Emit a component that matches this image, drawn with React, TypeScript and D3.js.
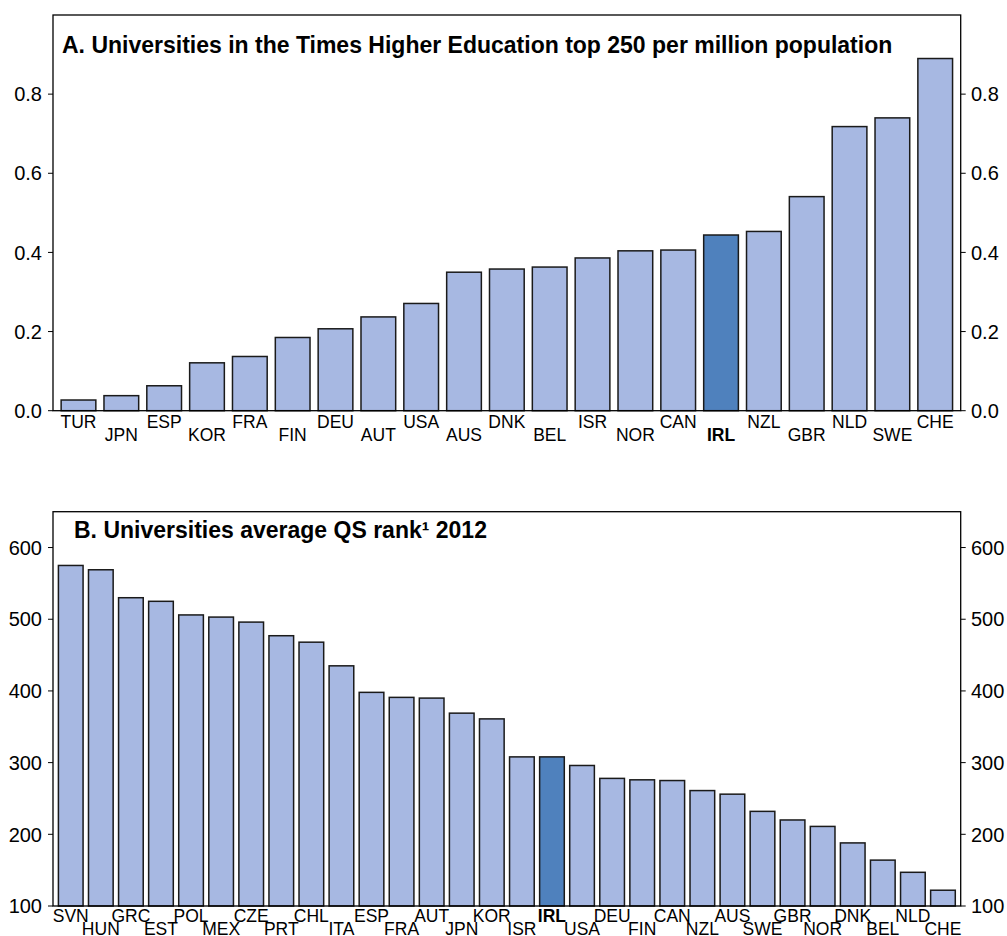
import React from "react";
import * as d3 from "d3";

const catsA = ["TUR","JPN","ESP","KOR","FRA","FIN","DEU","AUT","USA","AUS","DNK","BEL","ISR","NOR","CAN","IRL","NZL","GBR","NLD","SWE","CHE"];
const valsA = [0.027,0.038,0.063,0.121,0.137,0.185,0.207,0.237,0.271,0.350,0.358,0.363,0.386,0.404,0.406,0.444,0.453,0.541,0.718,0.740,0.890];
const ticksA = [0, 0.2, 0.4, 0.6, 0.8];

const catsB = ["SVN","HUN","GRC","EST","POL","MEX","CZE","PRT","CHL","ITA","ESP","FRA","AUT","JPN","KOR","ISR","IRL","USA","DEU","FIN","CAN","NZL","AUS","SWE","GBR","NOR","DNK","BEL","NLD","CHE"];
const valsB = [575,569,530,525,506,503,496,477,468,435,398,391,390,369,361,308,308,296,278,276,275,261,256,232,220,211,188,164,147,122];
const ticksB = [100, 200, 300, 400, 500, 600];

const titleA = "A. Universities in the Times Higher Education top 250 per million population";
const titleB = "B. Universities average QS rank\u00b9 2012";
const highlight = "IRL";

const FONT = "Liberation Sans, Arial, Helvetica, sans-serif";
const LIGHT = "#A7B8E2";
const DARK = "#4F81BD";

type PanelProps = {
  cats: string[]; vals: number[]; ticks: number[];
  domain: [number, number]; top: number; bottom: number;
  title: string; titleX: number; titleY: number;
  fmt: (v: number) => string; row1: number; row2: number; padding: number;
};

const LEFT = 53;
const RIGHT = 960.7;

function Panel(p: PanelProps) {
  const x = d3.scaleBand<string>().domain(p.cats).range([LEFT, RIGHT]).padding(p.padding);
  const y = d3.scaleLinear().domain(p.domain).range([p.bottom, p.top]);
  return (
    <g>
      {p.cats.map((c, i) => (
        <rect key={c} x={x(c)} y={y(p.vals[i])} width={x.bandwidth()} height={y(p.domain[0]) - y(p.vals[i])}
          fill={c === highlight ? DARK : LIGHT} stroke="#1a1a1a" strokeWidth={1.5} />
      ))}
      <rect x={LEFT} y={p.top} width={RIGHT - LEFT} height={p.bottom - p.top} fill="none" stroke="#000" strokeWidth={1.3} />
      {p.ticks.map(t => (
        <g key={t}>
          <line x1={LEFT - 5} x2={LEFT} y1={y(t)} y2={y(t)} stroke="#000" strokeWidth={1} />
          <line x1={RIGHT} x2={RIGHT + 5} y1={y(t)} y2={y(t)} stroke="#000" strokeWidth={1} />
          <text x={42} y={y(t)} dy="0.36em" textAnchor="end" fontSize={20} fontFamily={FONT} fill="#000">{p.fmt(t)}</text>
          <text x={971} y={y(t)} dy="0.36em" textAnchor="start" fontSize={20} fontFamily={FONT} fill="#000">{p.fmt(t)}</text>
        </g>
      ))}
      {p.cats.map((c, i) => (
        <text key={"l" + c} x={(x(c) as number) + x.bandwidth() / 2} y={i % 2 === 0 ? p.row1 : p.row2}
          textAnchor="middle" fontSize={17.5} fontFamily={FONT} fontWeight={c === highlight ? "bold" : "normal"} fill="#000">{c}</text>
      ))}
      <text x={p.titleX} y={p.titleY} fontSize={23} fontWeight="bold" fontFamily={FONT} fill="#000">{p.title}</text>
    </g>
  );
}

export default function App() {
  return (
    <div style={{ position: "absolute", left: 0, top: 0 }}>
      <svg width={1007} height={936} style={{ display: "block", background: "#fff" }}>
        <Panel cats={catsA} vals={valsA} ticks={ticksA} domain={[0, 1]} top={15} bottom={410.7}
          title={titleA} titleX={62} titleY={53} fmt={d3.format(".1f")} row1={427.5} row2={440.5} padding={0.19} />
        <Panel cats={catsB} vals={valsB} ticks={ticksB} domain={[100, 650]} top={511.7} bottom={906}
          title={titleB} titleX={74} titleY={537.7} fmt={d3.format("d")} row1={922} row2={935} padding={0.18} />
      </svg>
    </div>
  );
}
